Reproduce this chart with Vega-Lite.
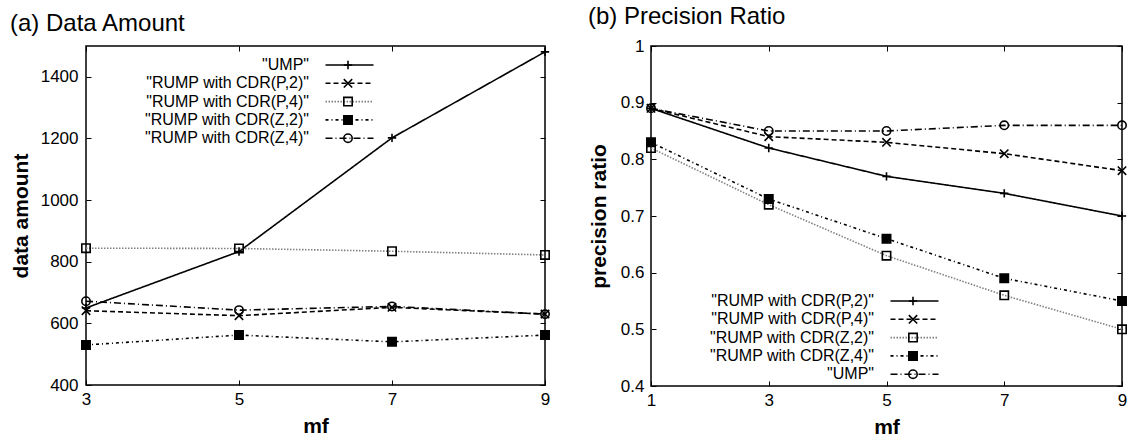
{
  "$schema": "https://vega.github.io/schema/vega-lite/v6.json",
  "background": "white",
  "padding": {"left": 9, "top": 4, "right": 0, "bottom": 0},
  "autosize": {"type": "pad"},
  "datasets": {
    "amount": [
      {"series": "\"UMP\"", "mf": 3, "value": 650},
      {"series": "\"UMP\"", "mf": 5, "value": 833},
      {"series": "\"UMP\"", "mf": 7, "value": 1202},
      {"series": "\"UMP\"", "mf": 9, "value": 1481},
      {"series": "\"RUMP with CDR(P,2)\"", "mf": 3, "value": 641},
      {"series": "\"RUMP with CDR(P,2)\"", "mf": 5, "value": 625},
      {"series": "\"RUMP with CDR(P,2)\"", "mf": 7, "value": 652},
      {"series": "\"RUMP with CDR(P,2)\"", "mf": 9, "value": 630},
      {"series": "\"RUMP with CDR(P,4)\"", "mf": 3, "value": 844},
      {"series": "\"RUMP with CDR(P,4)\"", "mf": 5, "value": 843},
      {"series": "\"RUMP with CDR(P,4)\"", "mf": 7, "value": 834},
      {"series": "\"RUMP with CDR(P,4)\"", "mf": 9, "value": 822},
      {"series": "\"RUMP with CDR(Z,2)\"", "mf": 3, "value": 530},
      {"series": "\"RUMP with CDR(Z,2)\"", "mf": 5, "value": 562},
      {"series": "\"RUMP with CDR(Z,2)\"", "mf": 7, "value": 540},
      {"series": "\"RUMP with CDR(Z,2)\"", "mf": 9, "value": 562},
      {"series": "\"RUMP with CDR(Z,4)\"", "mf": 3, "value": 672},
      {"series": "\"RUMP with CDR(Z,4)\"", "mf": 5, "value": 643},
      {"series": "\"RUMP with CDR(Z,4)\"", "mf": 7, "value": 655},
      {"series": "\"RUMP with CDR(Z,4)\"", "mf": 9, "value": 630}
    ],
    "precision": [
      {"series": "\"RUMP with CDR(P,2)\"", "mf": 1, "value": 0.89},
      {"series": "\"RUMP with CDR(P,2)\"", "mf": 3, "value": 0.82},
      {"series": "\"RUMP with CDR(P,2)\"", "mf": 5, "value": 0.77},
      {"series": "\"RUMP with CDR(P,2)\"", "mf": 7, "value": 0.74},
      {"series": "\"RUMP with CDR(P,2)\"", "mf": 9, "value": 0.70},
      {"series": "\"RUMP with CDR(P,4)\"", "mf": 1, "value": 0.89},
      {"series": "\"RUMP with CDR(P,4)\"", "mf": 3, "value": 0.84},
      {"series": "\"RUMP with CDR(P,4)\"", "mf": 5, "value": 0.83},
      {"series": "\"RUMP with CDR(P,4)\"", "mf": 7, "value": 0.81},
      {"series": "\"RUMP with CDR(P,4)\"", "mf": 9, "value": 0.78},
      {"series": "\"RUMP with CDR(Z,2)\"", "mf": 1, "value": 0.82},
      {"series": "\"RUMP with CDR(Z,2)\"", "mf": 3, "value": 0.72},
      {"series": "\"RUMP with CDR(Z,2)\"", "mf": 5, "value": 0.63},
      {"series": "\"RUMP with CDR(Z,2)\"", "mf": 7, "value": 0.56},
      {"series": "\"RUMP with CDR(Z,2)\"", "mf": 9, "value": 0.50},
      {"series": "\"RUMP with CDR(Z,4)\"", "mf": 1, "value": 0.83},
      {"series": "\"RUMP with CDR(Z,4)\"", "mf": 3, "value": 0.73},
      {"series": "\"RUMP with CDR(Z,4)\"", "mf": 5, "value": 0.66},
      {"series": "\"RUMP with CDR(Z,4)\"", "mf": 7, "value": 0.59},
      {"series": "\"RUMP with CDR(Z,4)\"", "mf": 9, "value": 0.55},
      {"series": "\"UMP\"", "mf": 1, "value": 0.89},
      {"series": "\"UMP\"", "mf": 3, "value": 0.85},
      {"series": "\"UMP\"", "mf": 5, "value": 0.85},
      {"series": "\"UMP\"", "mf": 7, "value": 0.86},
      {"series": "\"UMP\"", "mf": 9, "value": 0.86}
    ]
  },
  "hconcat": [
    {
      "width": 459,
      "height": 339,
      "title": {"text": "(a) Data Amount", "anchor": "start", "frame": "bounds", "fontSize": 24, "font": "Liberation Sans", "fontWeight": "normal", "color": "black", "offset": 8},
      "data": {"name": "amount"},
      "layer": [
        {
          "mark": {"type": "line", "strokeWidth": 1.6},
          "encoding": {
            "x": {"field": "mf", "type": "quantitative", "scale": {"domain": [3, 9]}, "axis": null},
            "y": {"field": "value", "type": "quantitative", "scale": {"domain": [400, 1500]}, "axis": null},
            "strokeDash": {"field": "series", "type": "nominal",
              "scale": {"domain": ["\"UMP\"", "\"RUMP with CDR(P,2)\"", "\"RUMP with CDR(P,4)\"", "\"RUMP with CDR(Z,2)\"", "\"RUMP with CDR(Z,4)\""],
                        "range": [[1, 0], [5, 3], [1.5, 1.5], [3, 3, 1, 3], [7, 3, 1, 3]]},
              "legend": {"title": null, "orient": "none", "legendX": 41.5, "legendY": 11, "symbolType": "M-12,0H12", "symbolSize": 16, "symbolStrokeWidth": 1.6, "symbolOffset": 214, "labelAlign": "right", "labelOffset": -48.5, "labelFontSize": 16, "labelColor": "black", "labelLimit": 400, "rowPadding": 2.3, "padding": 0}},
            "color": {"field": "series", "type": "nominal",
              "scale": {"domain": ["\"UMP\"", "\"RUMP with CDR(P,2)\"", "\"RUMP with CDR(P,4)\"", "\"RUMP with CDR(Z,2)\"", "\"RUMP with CDR(Z,4)\""],
                        "range": ["#000000", "#000000", "#808080", "#000000", "#000000"]},
              "legend": {"title": null, "orient": "none", "legendX": 41.5, "legendY": 11, "symbolType": "M-12,0H12", "symbolSize": 16, "symbolStrokeWidth": 1.6, "symbolOffset": 214, "labelAlign": "right", "labelOffset": -48.5, "labelFontSize": 16, "labelColor": "black", "labelLimit": 400, "rowPadding": 2.3, "padding": 0}}
          }
        },
        {
          "mark": {"type": "point", "color": "black", "filled": false, "strokeWidth": 1.6, "size": 70, "opacity": 1},
          "encoding": {
            "x": {"field": "mf", "type": "quantitative", "scale": {"domain": [3, 9]},
              "axis": {"orient": "bottom", "values": [3, 5, 7, 9], "title": "mf", "labelPadding": 11, "titleY": 41, "titleBaseline": "middle", "labelFlush": false}},
            "y": {"field": "value", "type": "quantitative", "scale": {"domain": [400, 1500]},
              "axis": {"orient": "left", "values": [400, 600, 800, 1000, 1200, 1400], "format": "d", "title": "data amount", "labelPadding": 13, "titleX": -65, "titleY": 169.5, "titleBaseline": "middle", "titleAngle": -90, "labelFlush": false}},
            "shape": {"field": "series", "type": "nominal", "sort": null,
              "scale": {"range": ["M-1,0H1M0,-1V1", "M-1,-1L1,1M-1,1L1,-1", "square", "M-1,-1H1V1H-1ZM-0.7,-0.7H0.7V0.7H-0.7ZM-0.4,-0.4H0.4V0.4H-0.4ZM-0.1,-0.1H0.1V0.1H-0.1Z", "circle"]},
              "legend": {"title": null, "orient": "none", "legendX": 254, "legendY": 11, "symbolSize": 70, "symbolStrokeWidth": 1.6, "labelExpr": "' '", "labelOpacity": 0, "labelFontSize": 16, "rowPadding": 2.3, "padding": 0}}
          }
        },
        {
          "mark": {"type": "point", "opacity": 0},
          "encoding": {
            "x": {"field": "mf", "type": "quantitative", "scale": {"domain": [3, 9]},
              "axis": {"orient": "top", "values": [3, 5, 7, 9], "labels": false, "title": null}},
            "y": {"field": "value", "type": "quantitative", "scale": {"domain": [400, 1500]},
              "axis": {"orient": "right", "values": [400, 600, 800, 1000, 1200, 1400], "labels": false, "title": null}}
          }
        }
      ],
      "resolve": {"axis": {"x": "independent", "y": "independent"}}
    },
    {
      "width": 471,
      "height": 340,
      "title": {"text": "(b) Precision Ratio", "anchor": "start", "frame": "bounds", "fontSize": 24, "font": "Liberation Sans", "fontWeight": "normal", "color": "black", "offset": 8},
      "data": {"name": "precision"},
      "layer": [
        {
          "mark": {"type": "line", "strokeWidth": 1.6},
          "encoding": {
            "x": {"field": "mf", "type": "quantitative", "scale": {"domain": [1, 9]}, "axis": null},
            "y": {"field": "value", "type": "quantitative", "scale": {"domain": [0.4, 1]}, "axis": null},
            "strokeDash": {"field": "series", "type": "nominal",
              "scale": {"domain": ["\"RUMP with CDR(P,2)\"", "\"RUMP with CDR(P,4)\"", "\"RUMP with CDR(Z,2)\"", "\"RUMP with CDR(Z,4)\"", "\"UMP\""],
                        "range": [[1, 0], [5, 3], [1.5, 1.5], [3, 3, 1, 3], [7, 3, 1, 3]]},
              "legend": {"title": null, "orient": "none", "legendX": 41.5, "legendY": 247, "symbolType": "M-12,0H12", "symbolSize": 16, "symbolStrokeWidth": 1.6, "symbolOffset": 214, "labelAlign": "right", "labelOffset": -48.5, "labelFontSize": 16, "labelColor": "black", "labelLimit": 400, "rowPadding": 2.3, "padding": 0}},
            "color": {"field": "series", "type": "nominal",
              "scale": {"domain": ["\"RUMP with CDR(P,2)\"", "\"RUMP with CDR(P,4)\"", "\"RUMP with CDR(Z,2)\"", "\"RUMP with CDR(Z,4)\"", "\"UMP\""],
                        "range": ["#000000", "#000000", "#808080", "#000000", "#000000"]},
              "legend": {"title": null, "orient": "none", "legendX": 41.5, "legendY": 247, "symbolType": "M-12,0H12", "symbolSize": 16, "symbolStrokeWidth": 1.6, "symbolOffset": 214, "labelAlign": "right", "labelOffset": -48.5, "labelFontSize": 16, "labelColor": "black", "labelLimit": 400, "rowPadding": 2.3, "padding": 0}}
          }
        },
        {
          "mark": {"type": "point", "color": "black", "filled": false, "strokeWidth": 1.6, "size": 70, "opacity": 1},
          "encoding": {
            "x": {"field": "mf", "type": "quantitative", "scale": {"domain": [1, 9]},
              "axis": {"orient": "bottom", "values": [1, 3, 5, 7, 9], "title": "mf", "labelPadding": 11, "titleY": 41, "titleBaseline": "middle", "labelFlush": false}},
            "y": {"field": "value", "type": "quantitative", "scale": {"domain": [0.4, 1]},
              "axis": {"orient": "left", "values": [0.4, 0.5, 0.6, 0.7, 0.8, 0.9, 1], "format": "~g", "title": "precision ratio", "labelPadding": 12, "titleX": -52, "titleY": 170, "titleBaseline": "middle", "titleAngle": -90, "labelFlush": false}},
            "shape": {"field": "series", "type": "nominal", "sort": null,
              "scale": {"range": ["M-1,0H1M0,-1V1", "M-1,-1L1,1M-1,1L1,-1", "square", "M-1,-1H1V1H-1ZM-0.7,-0.7H0.7V0.7H-0.7ZM-0.4,-0.4H0.4V0.4H-0.4ZM-0.1,-0.1H0.1V0.1H-0.1Z", "circle"]},
              "legend": {"title": null, "orient": "none", "legendX": 254, "legendY": 247, "symbolSize": 70, "symbolStrokeWidth": 1.6, "labelExpr": "' '", "labelOpacity": 0, "labelFontSize": 16, "rowPadding": 2.3, "padding": 0}}
          }
        },
        {
          "mark": {"type": "point", "opacity": 0},
          "encoding": {
            "x": {"field": "mf", "type": "quantitative", "scale": {"domain": [1, 9]},
              "axis": {"orient": "top", "values": [1, 3, 5, 7, 9], "labels": false, "title": null}},
            "y": {"field": "value", "type": "quantitative", "scale": {"domain": [0.4, 1]},
              "axis": {"orient": "right", "values": [0.4, 0.5, 0.6, 0.7, 0.8, 0.9, 1], "labels": false, "title": null}}
          }
        }
      ],
      "resolve": {"axis": {"x": "independent", "y": "independent"}}
    }
  ],
  "spacing": 106,
  "bounds": "flush",
  "resolve": {"scale": {"x": "independent", "y": "independent", "color": "independent", "strokeDash": "independent", "shape": "independent"}},
  "config": {
    "view": {"stroke": "black", "strokeWidth": 1.5},
    "axis": {"labelFont": "Liberation Sans", "titleFont": "Liberation Sans", "labelColor": "black", "titleColor": "black", "tickColor": "black", "tickWidth": 1, "tickSize": -5, "domain": false, "grid": false, "labelFontSize": 17, "titleFontSize": 21, "titleFontWeight": "bold"},
    "legend": {"labelFont": "Liberation Sans", "labelColor": "black"}
  }
}
